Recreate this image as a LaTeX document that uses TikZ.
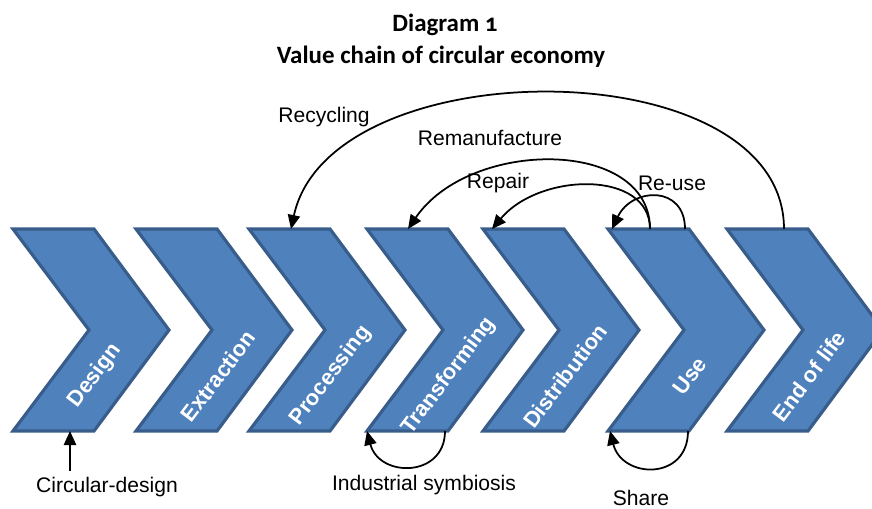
\documentclass[tikz,border=0pt]{standalone}
\usepackage{fontspec}
\setmainfont{Liberation Sans}
\newfontfamily\titlefont[Numbers=OldStyle]{Carlito}
\usetikzlibrary{calc,arrows.meta}
\definecolor{chevfill}{RGB}{79,129,189}
\definecolor{chevline}{RGB}{56,93,138}

\begin{document}
\begin{tikzpicture}[x=0.02cm, y=-0.02cm,
	chev/.style={fill=chevfill, draw=chevline, line width=1.8pt, line join=miter},
	chevtext/.style={text=white, font=\fontsize{12.5}{15}\selectfont\bfseries, rotate=53},
	ttl/.style={anchor=base, font=\titlefont\fontsize{14.2}{17}\selectfont\bfseries},
	lbl/.style={anchor=base, font=\fontsize{12}{14}\selectfont},
	arr/.style={line width=1pt, -{Triangle[length=8pt,width=7pt]}}]
		%%%%% START %%%%%
		\useasboundingbox (0, 0) rectangle (872, 508);
		
		\node[ttl] (ttl1) at (445, 31) {Diagram 1};
		\node[ttl] (ttl2) at (441, 63) {Value chain of circular economy};
		
		% chevrons of the chain
		\foreach \x/\n/\t in {13/des/Design, 136/ext/Extraction, 249/pro/Processing, 367/tra/Transforming, 483/dis/Distribution, 608/use/Use, 727/eol/End of life} {
			\draw[chev] (\x, 229) -- ++(81, 0) -- ++(75, 101) -- ++(-75, 101) -- ++(-81, 0) -- ++(76, -101) -- cycle;
			\coordinate (\n-tl) at (\x, 229);
			\coordinate (\n-bl) at (\x, 431);
			\node[chevtext] (\n) at (\x+82, 376) {\t};
		}
		
		% loops above
		\node[lbl] (rec) at (324, 122) {Recycling};
		\node[lbl] (reman) at (490, 145) {Remanufacture};
		\node[lbl] (rep) at (498, 188) {Repair};
		\node[lbl] (reuse) at (672, 190) {Re-use};
		
		\draw[arr] ($(eol-tl)+(57,0)$) .. controls +(0, -181) and +(39, -181) .. ($(pro-tl)+(42,0)$);
		\draw[arr] ($(use-tl)+(42,0)$) .. controls +(0, -91) and +(62, -91) .. ($(tra-tl)+(41,0)$);
		\draw[arr] ($(use-tl)+(42,0)$) .. controls +(0, -59) and +(48, -57) .. ($(dis-tl)+(9,0)$);
		\draw[arr] ($(use-tl)+(77,0)$) .. controls +(0, -44) and +(20, -42) .. ($(use-tl)+(4,0)$);
		
		% loops below
		\node[lbl] (sym) at (424, 490) {Industrial symbiosis};
		\node[lbl] (shr) at (641, 505) {Share};
		\node[lbl] (cdes) at (107, 492) {Circular-design};
		
		\draw[arr] ($(tra-bl)+(78,0)$) .. controls +(0, 47) and +(12, 47) .. (tra-bl);
		\draw[arr] ($(use-bl)+(80,0)$) .. controls +(0, 50) and +(12, 48) .. ($(use-bl)+(2,0)$);
		
		\coordinate (desbot) at ($(des-bl)+(57,0)$);
		\draw[arr] (desbot |- cdes.north) -- (desbot);
		%%%%% END %%%%%
	\end{tikzpicture}
\end{document}
